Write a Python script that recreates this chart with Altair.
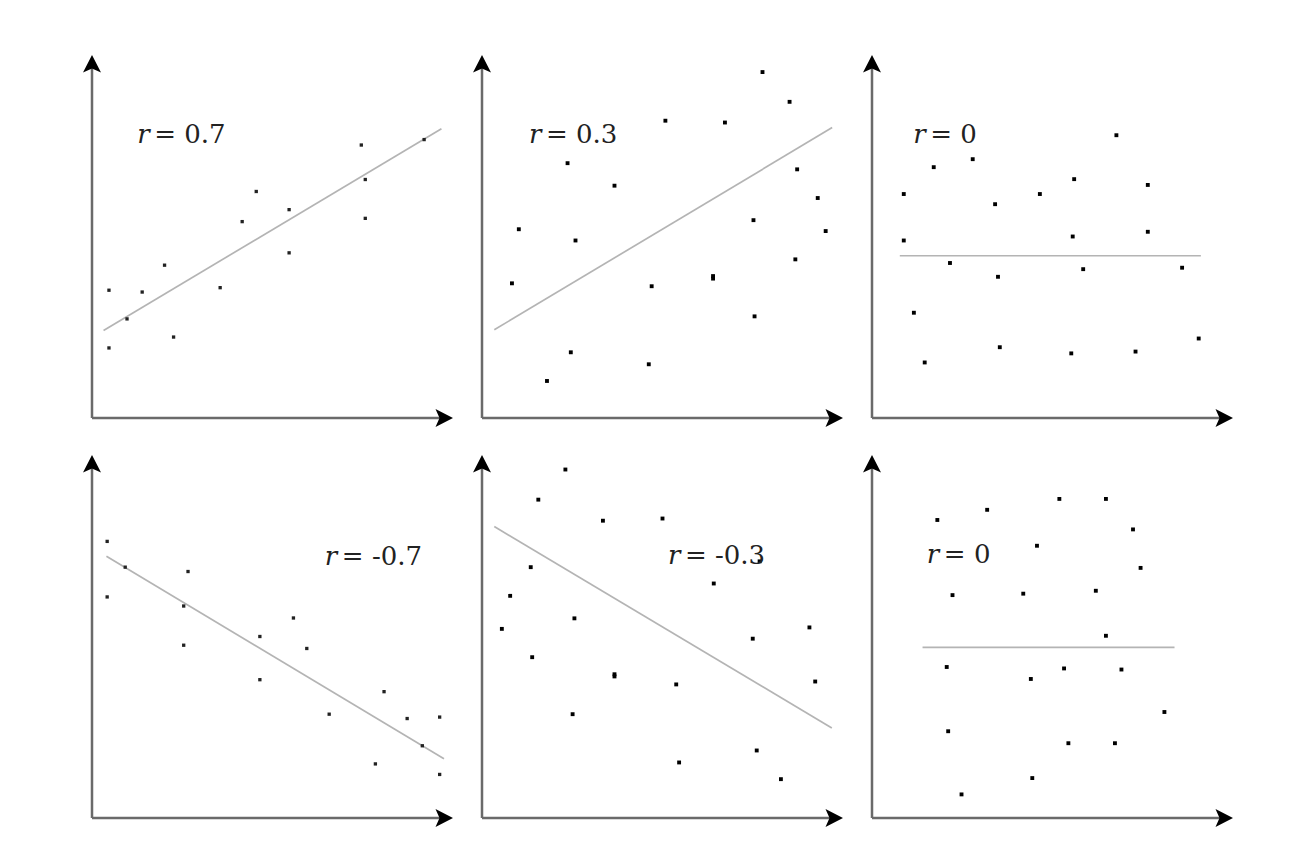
import altair as alt
import pandas as pd

# ---- data (each panel uses a 0-100 coordinate system) ----
p1_x = [4.7, 4.7, 9.7, 13.9, 20.1, 22.6, 35.5, 41.6, 45.5, 54.6, 54.6, 74.6, 75.7, 75.7, 92.0]
p1_y = [35.2, 19.3, 27.3, 34.7, 42.1, 22.3, 35.9, 54.1, 62.4, 57.4, 45.5, 75.2, 65.7, 55.0, 76.7]

p2_x = [77.7, 85.2, 50.8, 67.3, 23.7, 36.7, 87.3, 93.0, 10.2, 25.9, 75.2, 95.2, 86.8, 8.3, 47.0,
        64.0, 64.0, 75.5, 24.6, 46.2, 18.0]
p2_y = [95.3, 87.1, 81.9, 81.4, 70.2, 64.0, 68.5, 60.6, 52.0, 48.9, 54.5, 51.5, 43.7, 37.1, 36.3,
        39.1, 38.4, 28.0, 18.1, 14.8, 10.2]

p3_x = [67.7, 17.1, 27.9, 8.8, 34.1, 46.5, 56.0, 76.4, 8.8, 55.6, 76.4, 21.6, 34.9, 58.5, 85.9,
        11.6, 14.6, 35.4, 55.2, 73.0, 90.5]
p3_y = [77.9, 69.1, 71.3, 61.7, 58.9, 61.7, 65.8, 64.2, 48.9, 50.0, 51.3, 42.7, 38.9, 41.0, 41.4,
        29.0, 15.3, 19.5, 17.8, 18.3, 21.9]

p4_x = [4.2, 4.2, 9.2, 26.6, 25.4, 25.4, 46.5, 46.5, 55.8, 59.5, 65.7, 80.9, 87.3, 96.3, 91.5,
        78.5, 96.3]
p4_y = [76.2, 60.9, 69.1, 67.9, 58.4, 47.6, 50.0, 38.1, 55.1, 46.7, 28.6, 34.8, 27.4, 27.8, 19.9,
        14.9, 12.0]

p5_x = [23.1, 15.6, 33.5, 50.0, 76.9, 13.5, 64.2, 7.8, 5.5, 25.6, 90.7, 75.0, 13.9, 36.7, 36.7,
        53.8, 92.3, 25.1, 76.1, 54.6, 82.8]
p5_y = [96.0, 87.7, 81.9, 82.5, 70.7, 69.1, 64.6, 61.2, 52.1, 55.0, 52.5, 49.4, 44.3, 39.6, 39.0,
        36.8, 37.6, 28.6, 18.6, 15.3, 10.7]

p6_x = [51.9, 64.8, 31.9, 18.1, 72.3, 45.7, 74.4, 22.3, 41.9, 62.0, 64.8, 20.7, 44.0, 53.2, 69.1,
        81.0, 21.1, 54.4, 67.3, 44.4, 24.8]
p6_y = [87.9, 87.9, 84.9, 82.1, 79.5, 75.0, 68.9, 61.4, 61.8, 62.6, 50.2, 41.6, 38.3, 41.2, 40.9,
        29.2, 23.9, 20.6, 20.6, 11.0, 6.5]

xs = [p1_x, p2_x, p3_x, p4_x, p5_x, p6_x]
ys = [p1_y, p2_y, p3_y, p4_y, p5_y, p6_y]

# fitted lines (start and end points)
fit_x1 = [3.2, 3.4, 7.7, 4.0, 3.4, 14.0]
fit_y1 = [24.1, 24.3, 44.7, 72.1, 80.3, 47.0]
fit_x2 = [96.8, 97.0, 91.1, 97.5, 96.9, 83.8]
fit_y2 = [79.7, 80.0, 44.7, 16.3, 24.8, 47.0]

# correlation labels
r_values = ["0.7", "0.3", "0", "-0.7", "-0.3", "0"]
label_x = [12.5, 13.0, 11.4, 64.5, 51.5, 15.2]
label_y = [78.0, 78.0, 78.0, 71.8, 72.2, 72.5]

POINT_SIZE = [11, 15, 15, 11, 15, 15]
POINT_COLOR = ["#222222", "#000000", "#000000", "#222222", "#000000", "#000000"]

W, H = 361, 363
UP_ARROW = "M0,-1L0.9,0.75L0,0.35L-0.9,0.75Z"
RIGHT_ARROW = "M1,0L-0.75,-0.9L-0.35,0L-0.75,0.9Z"
FONT = "DejaVu Serif"


def panel(i):
    sx = alt.Scale(domain=[0, 100], nice=False, zero=False)
    sy = alt.Scale(domain=[0, 100], nice=False, zero=False)
    X = lambda f: alt.X(f, type="quantitative", scale=sx, axis=None)
    Y = lambda f: alt.Y(f, type="quantitative", scale=sy, axis=None)

    origin = pd.DataFrame({"x": [0], "y": [0], "x2": [100], "y2": [100]})
    xaxis = alt.Chart(origin).mark_rule(color="#6a6a6a", strokeWidth=2.5, x2Offset=-10).encode(
        x=X("x"), x2="x2:Q", y=Y("y"))
    yaxis = alt.Chart(origin).mark_rule(color="#6a6a6a", strokeWidth=2.5, y2Offset=10).encode(
        x=X("x"), y=Y("y"), y2="y2:Q")
    up = alt.Chart(origin).mark_point(shape=UP_ARROW, filled=True, size=400, color="black",
                                      opacity=1, strokeWidth=0, yOffset=10).encode(
        x=X("x"), y=Y("y2"))
    right = alt.Chart(origin).mark_point(shape=RIGHT_ARROW, filled=True, size=400, color="black",
                                         opacity=1, strokeWidth=0, xOffset=-10).encode(
        x=X("x2"), y=Y("y"))

    fit = pd.DataFrame({"x": [fit_x1[i]], "y": [fit_y1[i]], "x2": [fit_x2[i]], "y2": [fit_y2[i]]})
    line = alt.Chart(fit).mark_rule(color="#b4b4b4", strokeWidth=1.7).encode(
        x=X("x"), y=Y("y"), x2="x2:Q", y2="y2:Q")

    pts = pd.DataFrame({"x": xs[i], "y": ys[i]})
    dots = alt.Chart(pts).mark_square(size=POINT_SIZE[i], color=POINT_COLOR[i], opacity=1).encode(
        x=X("x"), y=Y("y"))

    lab = pd.DataFrame({"x": [label_x[i]], "y": [label_y[i]], "r": ["r"],
                        "v": ["= " + r_values[i]]})
    rtxt = alt.Chart(lab).mark_text(font=FONT, fontSize=26, fontStyle="italic", align="left",
                                    baseline="middle", color="#222222").encode(
        x=X("x"), y=Y("y"), text="r:N")
    vtxt = alt.Chart(lab).mark_text(font=FONT, fontSize=26, align="left", baseline="middle",
                                    color="#222222", dx=17).encode(
        x=X("x"), y=Y("y"), text="v:N")

    return alt.layer(line, xaxis, yaxis, up, right, dots, rtxt, vtxt).properties(width=W, height=H)


chart = alt.concat(*[panel(i) for i in range(6)], columns=3, spacing={"row": 37, "column": 29},
                   bounds="flush").properties(
    padding={"left": 75, "top": 47, "right": 5, "bottom": 5},
    background="white",
).configure_view(stroke=None)

chart.save("out.html", embed_options={"renderer": "svg", "actions": False})
